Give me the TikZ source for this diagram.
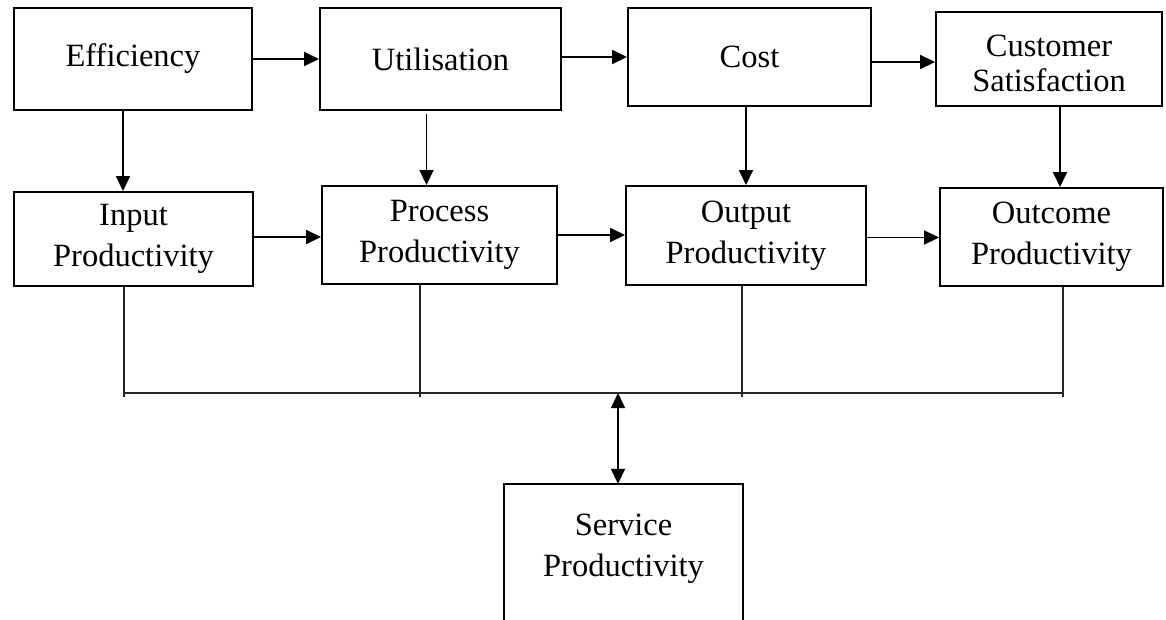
\documentclass[tikz,border=0pt]{standalone}
\usepackage{fontspec}
\setmainfont{Liberation Serif}
\usetikzlibrary{arrows.meta}
\begin{document}
\begin{tikzpicture}[x=1pt,y=-1pt,
  every node/.style={font=\fontsize{32.5}{41}\selectfont},
  blk/.style={draw, line width=1.9pt, align=center, inner sep=0pt},
  lab/.style={align=center, inner sep=0pt},
  arr/.style={line width=1.6pt, -{Triangle[length=15pt,width=14pt]}},
  dblarr/.style={line width=1.6pt, {Triangle[length=15pt,width=14pt]}-{Triangle[length=15pt,width=14pt]}},
  bus/.style={line width=1.3pt, black!85},
  outline/.style={line width=1.9pt}]
\path[use as bounding box, clip] (0,0) rectangle (1166,619);

% top row
\node[blk, minimum width=238pt, minimum height=102pt] (eff)  at (133,59)    {Efficiency};
\node[blk, minimum width=241pt, minimum height=102pt] (util) at (440.5,59)  {Utilisation};
\node[blk, minimum width=243pt, minimum height=98pt]  (cost) at (749.5,57)  {Cost};
\node[blk, minimum width=226pt, minimum height=94pt]  (cust) at (1049,59)   {};
\node[lab] (custtxt) at (1049,63) {Customer\\[-6pt]Satisfaction};

% second row
\node[blk, minimum width=239pt, minimum height=94pt]  (inp)  at (133.5,239) {Input\\Productivity};
\node[blk, minimum width=235pt, minimum height=98pt]  (proc) at (439.5,235) {Process\\Productivity};
\node[blk, minimum width=240pt, minimum height=99pt]  (outp) at (746,235.5) {Output\\Productivity};
\node[blk, minimum width=223pt, minimum height=98pt]  (outc) at (1051.5,237){Outcome\\Productivity};

% bottom box (open at the lower edge)
\node[lab, minimum width=239pt, minimum height=130pt] (svc) at (623.5,549) {Service\\Productivity};
\draw[outline] ([yshift=-60pt]svc.south west) -- (svc.north west) -- (svc.north east) -- ([yshift=-60pt]svc.south east);

% horizontal arrows
\draw[arr] (eff.east) -- (util.west);
\draw[arr] ([yshift=2pt]util.east) -- ([yshift=2pt]util.east -| cost.west);
\draw[arr] ([yshift=-5pt]cost.east) -- ([yshift=-5pt]cost.east -| cust.west);
\draw[arr] ([yshift=2pt]inp.east) -- ([yshift=2pt]inp.east -| proc.west);
\draw[arr] (proc.east) -- (proc.east -| outp.west);
\draw[arr] ([yshift=-2pt]outp.east) -- ([yshift=-2pt]outp.east -| outc.west);

% vertical arrows
\draw[arr] ([xshift=-10pt]eff.south) -- ([xshift=-10pt]eff.south |- inp.north);
\draw[arr] ([xshift=-14pt,yshift=-3pt]util.south) -- ([xshift=-14pt]util.south |- proc.north);
\draw[arr] ([xshift=-3.5pt]cost.south) -- ([xshift=-3.5pt]cost.south |- outp.north);
\draw[arr] ([xshift=11pt]cust.south) -- ([xshift=11pt]cust.south |- outc.north);

% collecting bus
\coordinate (b1) at (124,397);
\coordinate (b2) at (420,397);
\coordinate (b3) at (742,397);
\coordinate (b4) at (1063,397);
\coordinate (bl) at (124,393);
\coordinate (br) at (1063,393);
\coordinate (bm) at (618,393);
\draw[bus] (inp.south -| b1) -- (b1);
\draw[bus] (proc.south -| b2) -- (b2);
\draw[bus] (outp.south -| b3) -- (b3);
\draw[bus] (outc.south -| b4) -- (b4);
\draw[bus] (bl) -- (br);
\draw[dblarr] (bm) -- (bm |- svc.north);
\end{tikzpicture}
\end{document}
